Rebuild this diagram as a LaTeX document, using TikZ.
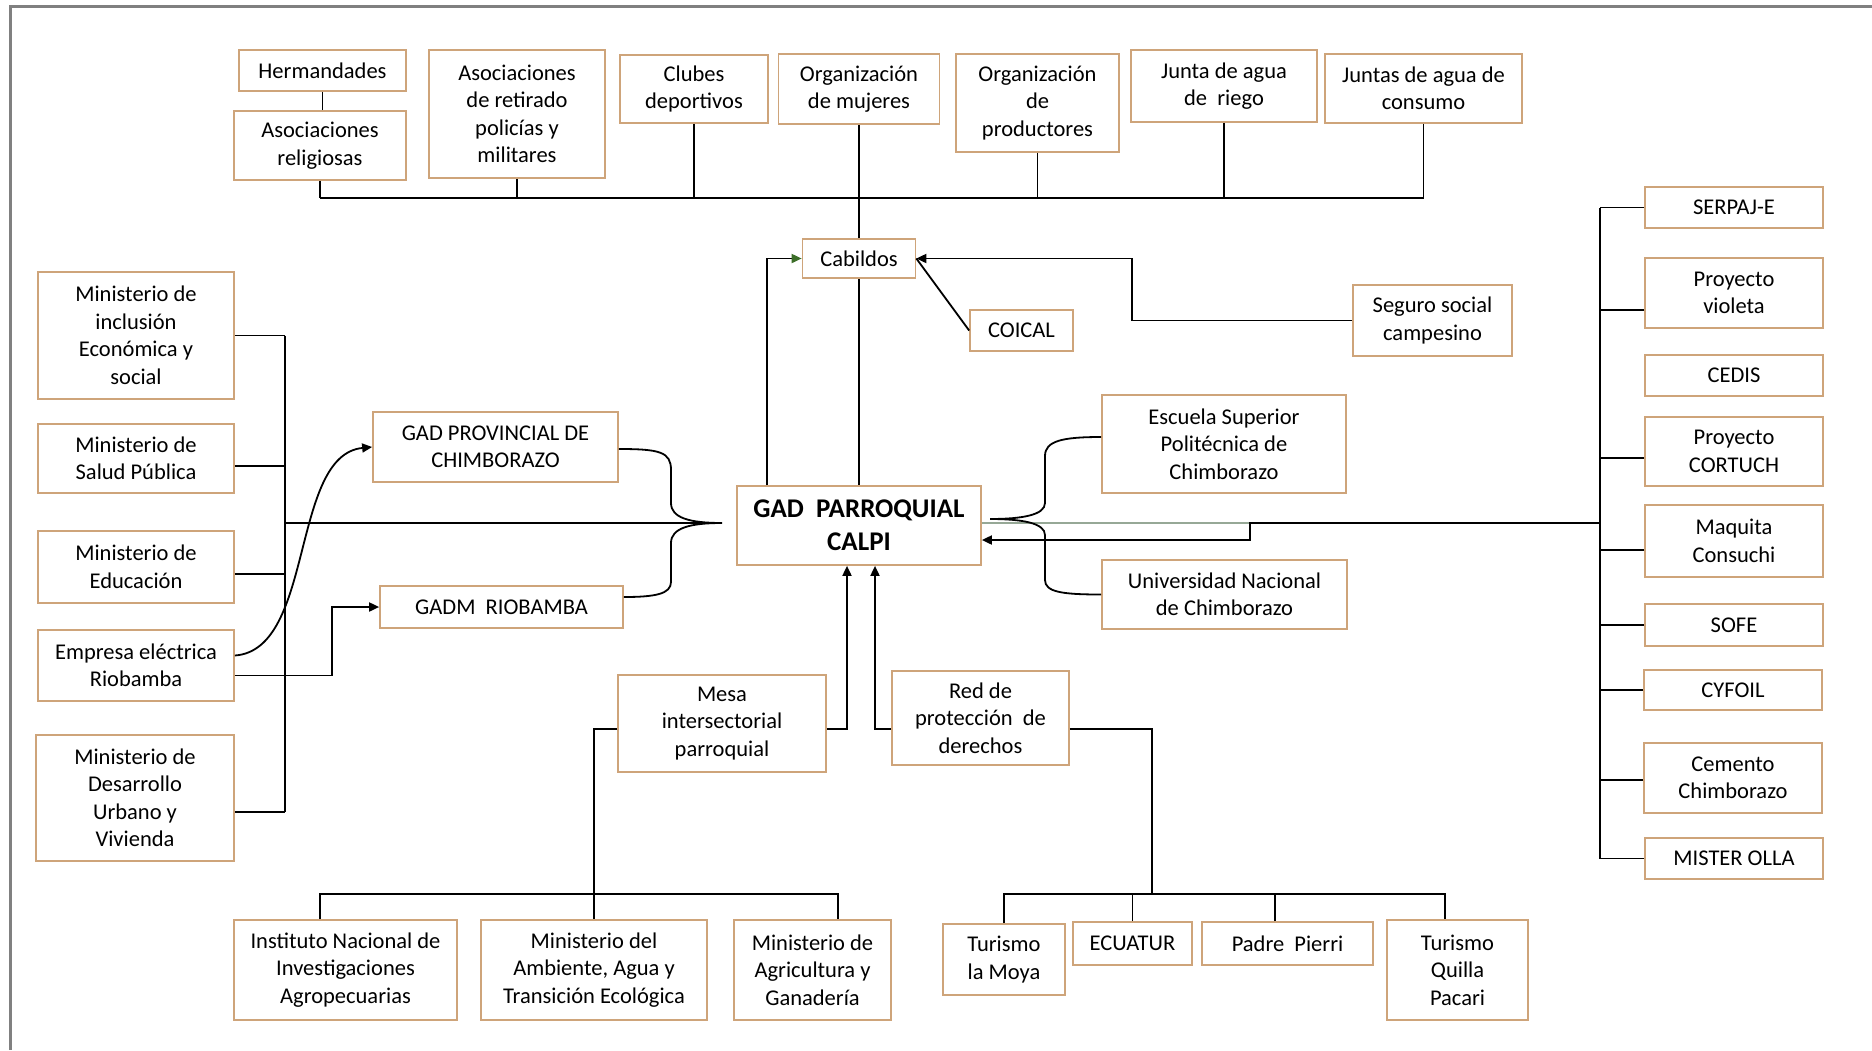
\documentclass[tikz,border=0pt]{standalone}
\usepackage{fontspec}
\setmainfont{Carlito}
\usetikzlibrary{arrows.meta,calc}
\definecolor{boxline}{RGB}{206,164,122}
\definecolor{framegray}{RGB}{128,128,128}
\definecolor{tipgreen}{RGB}{60,110,40}
\definecolor{palegreen}{RGB}{150,168,150}
\begin{document}
\begin{tikzpicture}[x=1pt,y=-1pt,
  box/.style={draw=boxline, line width=1.7pt, fill=white, align=center, inner sep=2pt,
    font=\fontsize{22.5}{27.5}\selectfont},
  conn/.style={draw=black, line width=1.8pt},
  arr/.style={conn, -{Triangle[length=10pt,width=9pt]}},
  arrg/.style={conn, -{Triangle[length=10pt,width=9pt,color=tipgreen]}},
]
\useasboundingbox (0,0) rectangle (1872,1050);
\fill[white] (0,0) rectangle (1872,1050);
\draw[framegray, line width=3pt] (10,1050) -- (10,6) -- (1872,6);

% top row
\node[box, minimum width=167pt, minimum height=41pt] (herm) at (322.5,70.5) {Hermandades};
\node[box, minimum width=172pt, minimum height=69pt] (asocrel) at (320,145.5) {Asociaciones\\religiosas};
\node[box, minimum width=176pt, minimum height=128pt] (asocret) at (517,114) {Asociaciones\\de retirado\\policías y\\militares};
\node[box, minimum width=148pt, minimum height=68pt] (clubes) at (694,89) {Clubes\\deportivos};
\node[box, minimum width=161pt, minimum height=70pt] (orgmuj) at (859,89) {Organización\\de mujeres};
\node[box, minimum width=163pt, minimum height=98pt] (orgprod) at (1037.5,103) {Organización\\de\\productores};
\node[box, minimum width=186pt, minimum height=72pt] (juntariego) at (1224,86) {Junta de agua\\de~~riego};
\node[box, minimum width=197pt, minimum height=69pt] (juntacons) at (1423.5,88.5) {Juntas de agua de\\consumo};

% centre
\node[box, minimum width=113pt, minimum height=39pt] (cab) at (859,258.5) {Cabildos};
\node[box, minimum width=103pt, minimum height=41pt] (coical) at (1021.5,330.5) {COICAL};
\node[box, minimum width=159pt, minimum height=71pt] (seguro) at (1432.5,320.5) {Seguro social\\campesino};
\node[box, minimum width=244pt, minimum height=79pt, font=\bfseries\fontsize{27}{33}\selectfont] (gad) at (859,525.5) {GAD~~PARROQUIAL\\CALPI};
\node[box, minimum width=245pt, minimum height=70pt] (gadprov) at (495.5,447) {GAD PROVINCIAL DE\\CHIMBORAZO};
\node[box, minimum width=243pt, minimum height=42pt] (gadm) at (501.5,607) {GADM~~RIOBAMBA};
\node[box, minimum width=244pt, minimum height=98pt] (espoch) at (1224,444) {Escuela Superior\\Politécnica de\\Chimborazo};
\node[box, minimum width=245pt, minimum height=69pt] (unach) at (1224.5,594.5) {Universidad Nacional\\de Chimborazo};

% left column
\node[box, minimum width=196pt, minimum height=127pt] (mies) at (136,335.5) {Ministerio de\\inclusión\\Económica y\\social};
\node[box, minimum width=196pt, minimum height=69pt] (msp) at (136,458.5) {Ministerio de\\Salud Pública};
\node[box, minimum width=196pt, minimum height=72pt] (mineduc) at (136,567) {Ministerio de\\Educación};
\node[box, minimum width=196pt, minimum height=71pt] (empresa) at (136,665.5) {Empresa eléctrica\\Riobamba};
\node[box, minimum width=198pt, minimum height=126pt] (miduvi) at (135,798) {Ministerio de\\Desarrollo\\Urbano y\\Vivienda};

% right column
\node[box, minimum width=178pt, minimum height=41pt] (serpaj) at (1734,207.5) {SERPAJ-E};
\node[box, minimum width=178pt, minimum height=70pt] (violeta) at (1734,293) {Proyecto\\violeta};
\node[box, minimum width=178pt, minimum height=41pt] (cedis) at (1734,375.5) {CEDIS};
\node[box, minimum width=178pt, minimum height=69pt] (cortuch) at (1734,451.5) {Proyecto\\CORTUCH};
\node[box, minimum width=178pt, minimum height=72pt] (maquita) at (1734,541) {Maquita\\Consuchi};
\node[box, minimum width=178pt, minimum height=42pt] (sofe) at (1734,625) {SOFE};
\node[box, minimum width=178pt, minimum height=40pt] (cyfoil) at (1733,690) {CYFOIL};
\node[box, minimum width=178pt, minimum height=70pt] (cemento) at (1733,778) {Cemento\\Chimborazo};
\node[box, minimum width=178pt, minimum height=41pt] (mister) at (1734,858.5) {MISTER OLLA};

% bottom
\node[box, minimum width=208pt, minimum height=97pt] (mesa) at (722,723.5) {Mesa\\intersectorial\\parroquial};
\node[box, minimum width=177pt, minimum height=94pt] (red) at (980.5,718) {Red de\\protección~~de\\derechos};
\node[box, minimum width=223pt, minimum height=100pt] (inia) at (345.5,970) {Instituto Nacional de\\Investigaciones\\Agropecuarias};
\node[box, minimum width=226pt, minimum height=100pt] (maate) at (594,970) {Ministerio del\\Ambiente, Agua y\\Transición Ecológica};
\node[box, minimum width=157pt, minimum height=100pt] (mag) at (812.5,970) {Ministerio de\\Agricultura y\\Ganadería};
\node[box, minimum width=122pt, minimum height=71pt] (moya) at (1004,959.5) {Turismo\\la Moya};
\node[box, minimum width=119pt, minimum height=43pt] (ecuatur) at (1132.5,943.5) {ECUATUR};
\node[box, minimum width=171pt, minimum height=43pt] (pierri) at (1287.5,943.5) {Padre~~Pierri};
\node[box, minimum width=141pt, minimum height=100pt] (quilla) at (1457.5,970) {Turismo\\Quilla\\Pacari};

% ---- connectors: top
\coordinate (tbL) at (320,198);
\coordinate (tbR) at (1423.5,198);
\draw[conn] (tbL) -- (tbR);
\draw[conn] (herm.south) -- (herm.south |- asocrel.north);
\foreach \n in {asocrel,asocret,clubes,orgprod,juntariego,juntacons}
  \draw[conn] (\n.south) -- (\n.south |- tbL);
\draw[conn] (orgmuj.south) -- (cab.north);
\draw[conn] (cab.south) -- (gad.north);
\draw[arrg] ($(gad.north)+(-92,0)$) |- (cab.west);
\draw[arr] (seguro.west) -- ++(-220,0) |- (cab.east);
\draw[conn] (coical.west) -- (cab.east);

% ---- left
\coordinate (lbT) at (285,335.5);
\coordinate (lbB) at (285,812);
\coordinate (ltip) at (722,523);
\draw[conn] (lbT) -- (lbB);
\draw[conn] (mies.east) -- (lbT);
\draw[conn] ([yshift=-7.5pt]msp.east) -- ++(51,0);
\draw[conn] ([yshift=-7pt]mineduc.east) -- ++(51,0);
\draw[conn] ([yshift=-14pt]miduvi.east) -- ++(50,0);
\draw[conn] (ltip -| lbT) -- (ltip);
\draw[conn] ([yshift=-2pt]gadprov.east) .. controls (660,449) and (671,452) .. (671,470)
  -- (671,503) .. controls (671,518) and (690,523) .. (ltip)
  .. controls (690,523) and (671,528) .. (671,543)
  -- (671,582) .. controls (671,594) and (655,597) .. ([yshift=10pt]gadm.east);
\draw[arr] ([yshift=10pt]empresa.east) .. controls (315,650) and (290,455) .. (gadprov.west);
\draw[arr] ([yshift=-10pt]empresa.east) -- ++(97,0) |- (gadm.west);

% ---- right
\coordinate (rbT) at (1600,207.5);
\coordinate (rbB) at (1600,858.5);
\coordinate (rmid) at (1600,523);
\coordinate (rtip) at (990,519);
\draw[conn] (rbT) -- (rbB);
\draw[conn] (serpaj.west) -- (rbT);
\draw[conn] ([yshift=-17pt]violeta.west) -- ++(-45,0);
\draw[conn] ([yshift=-6.5pt]cortuch.west) -- ++(-45,0);
\draw[conn] ([yshift=-9pt]maquita.west) -- ++(-45,0);
\draw[conn] (sofe.west) -- ++(-45,0);
\draw[conn] (cyfoil.west) -- ++(-44,0);
\draw[conn] ([yshift=-2pt]cemento.west) -- ++(-44,0);
\draw[conn] (mister.west) -- (rbB);
\draw[draw=palegreen, line width=1.3pt] (gad.east |- rmid) -- (1250,523);
\draw[arr] (rmid) -- (1250,523) |- ([yshift=-14.5pt]gad.east);
\draw[conn] ([yshift=7pt]espoch.west) .. controls (1062,437) and (1045,441) .. (1045,456)
  -- (1045,503) .. controls (1045,515) and (1022,519) .. (rtip)
  .. controls (1022,519) and (1045,523) .. (1045,535)
  -- (1045,580) .. controls (1045,592) and (1062,594.5) .. (unach.west);

% ---- bottom
\coordinate (brb) at (1152,895);
\draw[arr] ([yshift=-5.5pt]mesa.east) -| ([xshift=-12pt]gad.south);
\draw[conn] ([yshift=-5.5pt]mesa.west) -| (maate.north);
\draw[conn] ([xshift=-25.5pt]inia.north) -- ++(0,-25) -| ([xshift=25.5pt]mag.north);
\draw[arr] ([yshift=-11pt]red.west) -| ([xshift=16pt]gad.south);
\draw[conn] ([yshift=-11pt]red.east) -| (brb);
\draw[conn] (moya.north) -- ++(0,-29) -| ([xshift=-12.5pt]quilla.north);
\draw[conn] (ecuatur.north) -- ++(0,-27);
\draw[conn] ([xshift=-12.5pt]pierri.north) -- ++(0,-27);
\end{tikzpicture}
\end{document}
